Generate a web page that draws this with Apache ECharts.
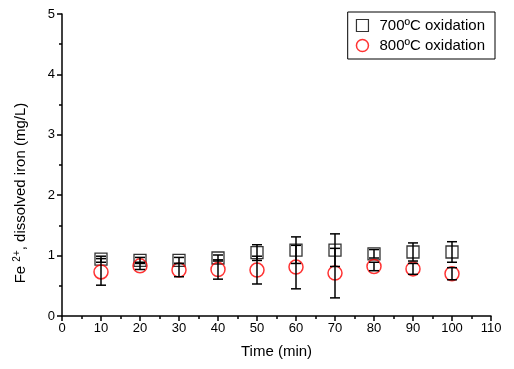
<!DOCTYPE html>
<html>
<head>
<meta charset="utf-8">
<script src="https://cdn.jsdelivr.net/npm/echarts@6/dist/echarts.min.js"></script>
<style>
  html, body { margin: 0; padding: 0; background: #fff; }
  #main { width: 514px; height: 369px; }
</style>
</head>
<body>
<div id="main"></div>
<script>
var times = [10, 20, 30, 40, 50, 60, 70, 80, 90, 100];
var fe700 = [0.94, 0.92, 0.92, 0.96, 1.05, 1.09, 1.09, 1.03, 1.06, 1.06];
var err700 = [0.05, 0.05, 0.05, 0.05, 0.13, 0.22, 0.27, 0.07, 0.15, 0.17];
var fe800 = [0.73, 0.83, 0.76, 0.77, 0.76, 0.81, 0.71, 0.82, 0.78, 0.70];
var err800 = [0.22, 0.06, 0.11, 0.16, 0.23, 0.36, 0.41, 0.07, 0.09, 0.10];

var myChart = echarts.init(document.getElementById('main'));

function pairs(vals) {
    return times.map(function (t, i) { return [t, vals[i]]; });
}
function errData(vals, errs) {
    return times.map(function (t, i) { return [t, vals[i] - errs[i], vals[i] + errs[i]]; });
}
function renderErr(params, api) {
    var lo = api.coord([api.value(0), api.value(1)]);
    var hi = api.coord([api.value(0), api.value(2)]);
    var w = 5;
    var st = { stroke: '#000', lineWidth: 1.5 };
    return {
        type: 'group',
        children: [
            { type: 'line', shape: { x1: lo[0], y1: lo[1], x2: hi[0], y2: hi[1] }, style: st },
            { type: 'line', shape: { x1: lo[0] - w, y1: lo[1], x2: lo[0] + w, y2: lo[1] }, style: st },
            { type: 'line', shape: { x1: hi[0] - w, y1: hi[1], x2: hi[0] + w, y2: hi[1] }, style: st }
        ]
    };
}

var font = 'Liberation Sans, Arial, sans-serif';

var option = {
    backgroundColor: '#FFF',
    animation: false,
    textStyle: { fontFamily: font },
    grid: { left: 62, right: 23, top: 14, bottom: 53 },
    legend: {
        right: 19,
        top: 12,
        orient: 'vertical',
        borderColor: '#000',
        borderWidth: 1,
        borderRadius: 0,
        padding: [6, 10, 6, 8],
        itemGap: 5,
        itemWidth: 12,
        itemHeight: 12,
        textStyle: { fontSize: 15, color: '#000', fontFamily: font, padding: [0, 0, 0, 6] },
        data: [
            { name: '700ºC oxidation', icon: 'rect', itemStyle: { color: 'transparent', borderColor: '#000', borderWidth: 1.2 } },
            { name: '800ºC oxidation', icon: 'circle', itemStyle: { color: 'transparent', borderColor: '#f00', borderWidth: 1.5 } }
        ]
    },
    xAxis: {
        type: 'value',
        min: 0, max: 110, interval: 10,
        name: 'Time (min)',
        nameLocation: 'middle',
        nameGap: 28,
        nameTextStyle: { fontSize: 15, color: '#000' },
        axisLine: { lineStyle: { color: '#000', width: 1.5 } },
        axisTick: { inside: false, length: 5, lineStyle: { color: '#000', width: 1.5 } },
        minorTick: { show: true, splitNumber: 2, length: 3, lineStyle: { color: '#000', width: 1.5 } },
        axisLabel: { fontSize: 13, color: '#000', margin: 6 },
        splitLine: { show: false }
    },
    yAxis: {
        type: 'value',
        min: 0, max: 5, interval: 1,
        name: '{n|Fe }{sup|2+}{n|, dissolved iron (mg/L)}',
        nameLocation: 'middle',
        nameGap: 32,
        nameTextStyle: {
            color: '#000',
            padding: [0, 56, 0, 0],
            rich: {
                n: { fontSize: 15, color: '#000', fontFamily: font },
                sup: { fontSize: 10, color: '#000', fontFamily: font, verticalAlign: 'top', padding: [0, 0, 8, 0] }
            }
        },
        axisLine: { show: true, lineStyle: { color: '#000', width: 1.5 } },
        axisTick: { show: true, inside: false, length: 5, lineStyle: { color: '#000', width: 1.5 } },
        minorTick: { show: true, splitNumber: 2, length: 3, lineStyle: { color: '#000', width: 1.5 } },
        axisLabel: { fontSize: 13, color: '#000', margin: 7 },
        splitLine: { show: false }
    },
    series: [
        {
            name: '700ºC oxidation',
            type: 'scatter',
            symbol: 'rect',
            symbolSize: 12,
            itemStyle: { color: 'transparent', borderColor: '#000', borderWidth: 1.3 },
            data: pairs(fe700),
            z: 3
        },
        {
            name: '800ºC oxidation',
            type: 'scatter',
            symbol: 'circle',
            symbolSize: 14,
            itemStyle: { color: 'transparent', borderColor: '#f00', borderWidth: 1.5 },
            data: pairs(fe800),
            z: 3
        },
        {
            name: 'err700',
            type: 'custom',
            renderItem: renderErr,
            data: errData(fe700, err700),
            z: 4
        },
        {
            name: 'err800',
            type: 'custom',
            renderItem: renderErr,
            data: errData(fe800, err800),
            z: 4
        }
    ]
};

myChart.setOption(option);
</script>
</body>
</html>
